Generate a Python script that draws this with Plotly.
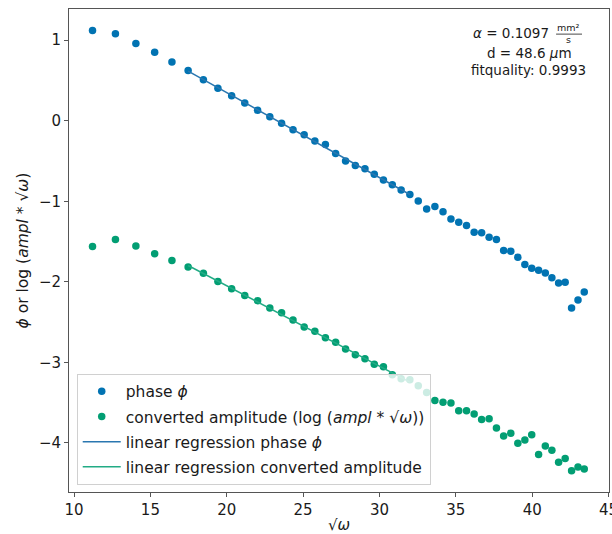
import numpy as np
import plotly.graph_objects as go

# sqrt(omega) values
sqrt_omega = [11.21, 12.71, 14.05, 15.28, 16.41, 17.47, 18.47, 19.42, 20.32, 21.18,
              22.02, 22.82, 23.59, 24.34, 25.07, 25.77, 26.46, 27.13, 27.78, 28.42,
              29.05, 29.66, 30.26, 30.84, 31.42, 31.99, 32.54, 33.09, 33.63, 34.16,
              34.68, 35.19, 35.70, 36.20, 36.69, 37.18, 37.66, 38.13, 38.60, 39.06,
              39.52, 39.97, 40.42, 40.86, 41.29, 41.73, 42.16, 42.58, 43.00, 43.41]

phase = [1.12, 1.08, 0.96, 0.85, 0.73, 0.625, 0.51, 0.405, 0.31, 0.22,
         0.13, 0.05, -0.03, -0.11, -0.175, -0.25, -0.295, -0.405, -0.50, -0.555,
         -0.595, -0.665, -0.735, -0.795, -0.86, -0.915, -0.995, -1.095, -1.065, -1.13,
         -1.22, -1.26, -1.30, -1.385, -1.39, -1.445, -1.475, -1.61, -1.62, -1.695,
         -1.785, -1.83, -1.855, -1.89, -1.95, -2.015, -2.005, -2.325, -2.225, -2.125]

amplitude = [-1.56, -1.475, -1.555, -1.65, -1.735, -1.815, -1.895, -1.995, -2.085, -2.17,
             -2.235, -2.325, -2.385, -2.475, -2.56, -2.615, -2.695, -2.75, -2.835, -2.905,
             -2.955, -3.025, -3.055, -3.155, -3.205, -3.215, -3.29, -3.375, -3.475, -3.495,
             -3.505, -3.6, -3.6, -3.64, -3.71, -3.70, -3.815, -3.915, -3.88, -4.005,
             -3.965, -3.90, -4.145, -4.04, -4.09, -4.24, -4.195, -4.345, -4.30, -4.325]

fit_start, fit_end = 5, 25  # index range used for the linear regressions

x_ticks = [10, 15, 20, 25, 30, 35, 40, 45]
y_ticks = [-4, -3, -2, -1, 0, 1]

BLUE = "#0173B2"
GREEN = "#029E73"
FONT = "DejaVu Sans"
TXT = "#1a1a1a"

x = np.array(sqrt_omega)
xf = x[fit_start:fit_end + 1]
pp = np.polyfit(xf, np.array(phase)[fit_start:fit_end + 1], 1)
pa = np.polyfit(xf, np.array(amplitude)[fit_start:fit_end + 1], 1)

fig = go.Figure()
fig.add_trace(go.Scatter(x=sqrt_omega, y=phase, mode="markers",
                         marker=dict(color=BLUE, size=7.5),
                         name="phase <i>ϕ</i>", legendgroup="a"))
fig.add_trace(go.Scatter(x=sqrt_omega, y=amplitude, mode="markers",
                         marker=dict(color=GREEN, size=7.5),
                         name="converted amplitude (log (<i>ampl</i> * √<i>ω</i>))", legendgroup="b"))
fig.add_trace(go.Scatter(x=xf, y=np.polyval(pp, xf), mode="lines",
                         line=dict(color="#2a77b0", width=1.5),
                         name="linear regression phase <i>ϕ</i>", legendgroup="c"))
fig.add_trace(go.Scatter(x=xf, y=np.polyval(pa, xf), mode="lines",
                         line=dict(color="#22ab85", width=1.5),
                         name="linear regression converted amplitude", legendgroup="d"))

axis_common = dict(showline=True, mirror=True, linecolor="#555555", linewidth=1,
                   ticks="outside", ticklen=4, tickcolor="#555555",
                   showgrid=False, zeroline=False, ticklabeloverflow="allow",
                   automargin=False,
                   tickfont=dict(family=FONT, size=15, color=TXT))

fig.update_layout(
    width=612, height=534,
    margin=dict(l=69, r=3, t=9, b=42, autoexpand=False),
    plot_bgcolor="white", paper_bgcolor="white",
    font=dict(family=FONT, color=TXT),
    showlegend=True,
    legend=dict(x=0.0143, y=0.015, xanchor="left", yanchor="bottom",
                bgcolor="rgba(255,255,255,0.8)", bordercolor="#d0d0d0", borderwidth=1,
                font=dict(family=FONT, size=15.5, color=TXT),
                itemwidth=38, tracegroupgap=2),
    xaxis=dict(range=[9.67, 45.03], tickvals=x_ticks,
               title=dict(text="√<i>ω</i>", font=dict(family=FONT, size=15), standoff=3),
               **axis_common),
    yaxis=dict(range=[-4.61, 1.388], tickvals=y_ticks,
               title=dict(text="<i>ϕ</i> or log (<i>ampl</i> * √<i>ω</i>)",
                          font=dict(family=FONT, size=15.5), standoff=6),
               **axis_common),
)

# fit info text (top right)
fig.add_annotation(xref="paper", yref="paper", x=0.893, y=0.951, xanchor="right", yanchor="middle",
                   text="<i>α</i> = 0.1097", showarrow=False,
                   font=dict(family=FONT, size=13.5, color=TXT))
fig.add_annotation(xref="paper", yref="paper", x=0.925, y=0.961, xanchor="center", yanchor="middle",
                   text="mm²", showarrow=False,
                   font=dict(family=FONT, size=9.5, color=TXT))
fig.add_annotation(xref="paper", yref="paper", x=0.925, y=0.936, xanchor="center", yanchor="middle",
                   text="s", showarrow=False,
                   font=dict(family=FONT, size=9.5, color=TXT))
fig.add_shape(type="line", xref="paper", yref="paper", x0=0.902, x1=0.950, y0=0.948, y1=0.948,
              line=dict(color=TXT, width=0.8))
fig.add_annotation(xref="paper", yref="paper", x=0.853, y=0.909, xanchor="center", yanchor="middle",
                   text="d = 48.6 <i>μ</i>m", showarrow=False,
                   font=dict(family=FONT, size=13.5, color=TXT))
fig.add_annotation(xref="paper", yref="paper", x=0.851, y=0.873, xanchor="center", yanchor="middle",
                   text="fitquality: 0.9993", showarrow=False,
                   font=dict(family=FONT, size=13.5, color=TXT))

fig.write_html("out.html")
